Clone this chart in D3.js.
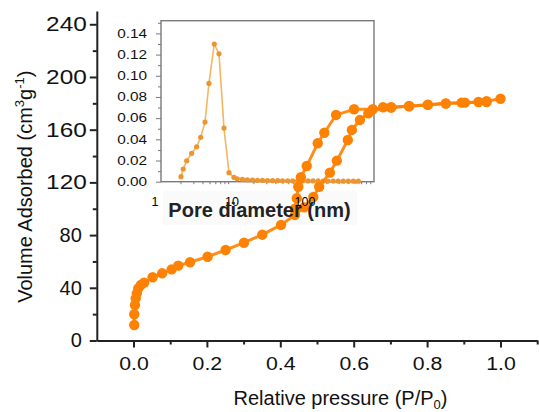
<!DOCTYPE html>
<html>
<head>
<meta charset="utf-8">
<script src="https://cdn.jsdelivr.net/npm/d3@7"></script>
<style>
  body { margin: 0; background: #fff; }
  svg { display: block; font-family: "Liberation Sans", Arial, sans-serif; }
</style>
</head>
<body>
<div id="canvas"></div>
<script>
// isotherm, adsorption branch
var adsP = [0.002, 0.002, 0.004, 0.006, 0.009, 0.013, 0.020, 0.029, 0.052, 0.078, 0.104, 0.122, 0.154, 0.202,
            0.251, 0.301, 0.351, 0.402, 0.440, 0.465, 0.490, 0.506, 0.535, 0.554, 0.584, 0.595, 0.617, 0.640,
            0.680, 0.702, 0.751, 0.802, 0.851, 0.894, 0.940, 0.962, 1.000];
var adsV = [11.8, 19.9, 26.9, 32.0, 35.8, 39.6, 42.1, 43.9, 48.0, 51.0, 54.0, 56.8, 59.4, 63.6,
            68.7, 74.2, 80.3, 87.7, 95.3, 101.0, 109.0, 116.7, 127.4, 136.5, 152.2, 159.8, 167.4, 172.4,
            177.0, 177.0, 178.0, 179.0, 180.0, 180.5, 181.0, 181.6, 183.5];
// desorption branch
var desP = [0.962, 0.903, 0.851, 0.802, 0.751, 0.702, 0.652, 0.601, 0.552, 0.520, 0.502, 0.472, 0.456, 0.449, 0.445, 0.440];
var desV = [181.0, 180.5, 179.8, 178.8, 177.8, 176.8, 175.5, 175.5, 171.2, 157.7, 149.7, 132.4, 123.9, 116.7, 108.0, 100.0];

// inset: pore size distribution
var poreD = [2.03, 2.18, 2.43, 2.84, 3.33, 3.78, 4.33, 4.91, 5.81, 6.74, 7.89, 9.24, 10.8,
             12.0, 14.1, 16.5, 19.4, 22.7, 26.6, 31.2, 36.6, 43, 50, 59, 69, 81, 95, 112, 131, 154,
             180, 211, 248, 290, 341, 400, 470, 550];
var poreV = [0.0047, 0.012, 0.0198, 0.0268, 0.033, 0.0419, 0.0563, 0.0928, 0.130, 0.1207, 0.0506, 0.0085, 0.0041,
             0.0028, 0.0022, 0.0018, 0.0015, 0.0013, 0.0012, 0.0011, 0.0010, 0.0010, 0.0009, 0.0009, 0.0008, 0.0008,
             0.0008, 0.0007, 0.0007, 0.0007, 0.0006, 0.0006, 0.0006, 0.0006, 0.0005, 0.0005, 0.0005, 0.0005];

var xTicks = [0, 0.2, 0.4, 0.6, 0.8, 1.0];
var xMinor = [0.1, 0.3, 0.5, 0.7, 0.9, 1.1];
var yTicks = [0, 40, 80, 120, 160, 200, 240];
var yMinor = [20, 60, 100, 140, 180, 220];
var insetYTicks = [0, 0.02, 0.04, 0.06, 0.08, 0.10, 0.12, 0.14];
var insetYMinor = [0.01, 0.03, 0.05, 0.07, 0.09, 0.11, 0.13, 0.15];
var insetXTicks = [1, 10, 100];
var insetXMinor = [2, 3, 4, 5, 6, 7, 8, 9, 20, 30, 40, 50, 60, 70, 80, 90, 200, 300, 400, 500, 600, 700, 800];

var W = 539, H = 412;
var orange = '#fd8204';

var svg = d3.select('#canvas').append('svg')
    .attr('width', W)
    .attr('height', H);

var scaleX = d3.scaleLinear().domain([-0.1, 1.1]).range([96.8, 537.2]);
var scaleY = d3.scaleLinear().domain([0, 250]).range([340.5, 11.1]);

var inX = d3.scaleLog().domain([1.08, 900]).range([161, 374]);
var inY = d3.scaleLinear().domain([0, 0.152]).range([181.7, 20.7]);

// ---- inset ----
var inset = svg.append('g');

// faint panel behind the inset title, as in the pasted figure
inset.append('rect')
    .attr('x', 163).attr('y', 191)
    .attr('width', 194).attr('height', 34)
    .attr('fill', '#fafafa');

inset.append('rect')
    .attr('x', inX.range()[0])
    .attr('y', inY.range()[1])
    .attr('width', inX.range()[1] - inX.range()[0])
    .attr('height', inY.range()[0] - inY.range()[1])
    .attr('fill', 'none')
    .attr('stroke', '#7a7a7a')
    .attr('stroke-width', 1.4);

var inAxisY = inset.append('g')
    .attr('transform', 'translate(' + inX.range()[0] + ',0)')
    .call(d3.axisLeft(inY).tickValues(insetYTicks).tickFormat(d3.format('.2f')).tickSize(5).tickSizeOuter(0));
inset.append('g')
    .attr('transform', 'translate(' + inX.range()[0] + ',0)')
    .call(d3.axisLeft(inY).tickValues(insetYMinor).tickFormat('').tickSize(3).tickSizeOuter(0));

inset.append('g')
    .attr('transform', 'translate(0,' + inY.range()[0] + ')')
    .call(d3.axisBottom(inX).tickValues(insetXMinor).tickFormat('').tickSize(2.5).tickSizeOuter(0));

inset.selectAll('.domain').remove();
inset.selectAll('.tick line').attr('stroke', '#7a7a7a').attr('stroke-width', 1);

inAxisY.selectAll('.tick text')
    .attr('font-size', 12)
    .attr('fill', '#111')
    .attr('x', -14 / 1.28)
    .attr('transform', 'scale(1.28,1)');

var psd = d3.range(poreD.length).map(function(i){ return {d: poreD[i], v: poreV[i]}; });

inset.append('path')
    .datum(psd)
    .attr('fill', 'none')
    .attr('stroke', '#f4b661')
    .attr('stroke-width', 1.6)
    .attr('d', d3.line().x(function(d){ return inX(d.d); }).y(function(d){ return inY(d.v); }));

inset.selectAll('circle.psd')
    .data(psd)
    .enter().append('circle')
    .attr('class', 'psd')
    .attr('cx', function(d){ return inX(d.d); })
    .attr('cy', function(d){ return inY(d.v); })
    .attr('r', 2.6)
    .attr('fill', '#ec9530');

// ---- main axes ----
var axisX = svg.append('g')
    .attr('transform', 'translate(0,' + scaleY(0) + ')')
    .call(d3.axisBottom(scaleX).tickValues(xTicks).tickFormat(d3.format('.1f')).tickSize(7).tickSizeOuter(0));
var axisXMinor = svg.append('g')
    .attr('transform', 'translate(0,' + scaleY(0) + ')')
    .call(d3.axisBottom(scaleX).tickValues(xMinor).tickFormat('').tickSize(4).tickSizeOuter(0));

var axisY = svg.append('g')
    .attr('transform', 'translate(' + scaleX(-0.1) + ',0)')
    .call(d3.axisLeft(scaleY).tickValues(yTicks).tickSize(7).tickSizeOuter(0));
var axisYMinor = svg.append('g')
    .attr('transform', 'translate(' + scaleX(-0.1) + ',0)')
    .call(d3.axisLeft(scaleY).tickValues(yMinor).tickFormat('').tickSize(4).tickSizeOuter(0));

axisXMinor.select('.domain').remove();
axisYMinor.select('.domain').remove();
[axisX, axisY, axisXMinor, axisYMinor].forEach(function(g){
    g.selectAll('.domain, .tick line').attr('stroke', '#222').attr('stroke-width', 2);
});

axisX.selectAll('.tick text')
    .attr('font-size', 19)
    .attr('fill', '#111')
    .attr('x', 0)
    .attr('y', 16)
    .attr('transform', 'scale(1.12,1)');

axisY.selectAll('.tick text')
    .attr('font-size', 20)
    .attr('fill', '#111')
    .attr('x', function(d){ return d >= 100 ? -10 / 1.22 : -15; })
    .attr('transform', function(d){ return d >= 100 ? 'scale(1.22,1)' : null; });

// ---- isotherm ----
var ads = d3.range(adsP.length).map(function(i){ return {p: adsP[i], v: adsV[i]}; });
var des = d3.range(desP.length).map(function(i){ return {p: desP[i], v: desV[i]}; });

var line = d3.line()
    .x(function(d){ return scaleX(d.p); })
    .y(function(d){ return scaleY(d.v); });

[ads, des].forEach(function(rows){
    svg.append('path')
        .datum(rows)
        .attr('fill', 'none')
        .attr('stroke', orange)
        .attr('stroke-width', 3)
        .attr('stroke-opacity', 0.9)
        .attr('d', line);
    svg.append('g').selectAll('circle')
        .data(rows)
        .enter().append('circle')
        .attr('cx', function(d){ return scaleX(d.p); })
        .attr('cy', function(d){ return scaleY(d.v); })
        .attr('r', 5.2)
        .attr('fill', orange);
});

// inset x labels and title sit on top of the isotherm
var inAxisX = svg.append('g')
    .attr('transform', 'translate(0,' + inY.range()[0] + ')')
    .call(d3.axisBottom(inX).tickValues(insetXTicks).tickFormat(d3.format('d')).tickSize(0).tickSizeOuter(0));
inAxisX.select('.domain').remove();
inAxisX.selectAll('.tick text')
    .attr('font-size', 12.5)
    .attr('fill', '#000')
    .attr('x', function(d){ return d === 1 ? -4 : 0; })
    .attr('y', 15);

svg.append('text')
    .attr('x', 259.5)
    .attr('y', 217)
    .attr('text-anchor', 'middle')
    .attr('font-size', 20)
    .attr('font-weight', 'bold')
    .attr('fill', '#222')
    .text('Pore diameter (nm)');

// ---- axis titles ----
var xt = svg.append('text')
    .attr('x', 340.5)
    .attr('y', 405)
    .attr('text-anchor', 'middle')
    .attr('font-size', 20)
    .attr('fill', '#111');
xt.append('tspan').text('Relative pressure (P/P');
xt.append('tspan').attr('font-size', 13).attr('dy', 4).text('0');
xt.append('tspan').attr('dy', -4).text(')');

var yt = svg.append('text')
    .attr('transform', 'translate(31.5,186.7) rotate(-90)')
    .attr('text-anchor', 'middle')
    .attr('font-size', 20)
    .attr('fill', '#111');
yt.append('tspan').text('Volume Adsorbed (cm');
yt.append('tspan').attr('font-size', 13).attr('dy', -8).text('3');
yt.append('tspan').attr('dy', 8).text('g');
yt.append('tspan').attr('font-size', 13).attr('dy', -8).text('-1');
yt.append('tspan').attr('dy', 8).text(')');
</script>
</body>
</html>
